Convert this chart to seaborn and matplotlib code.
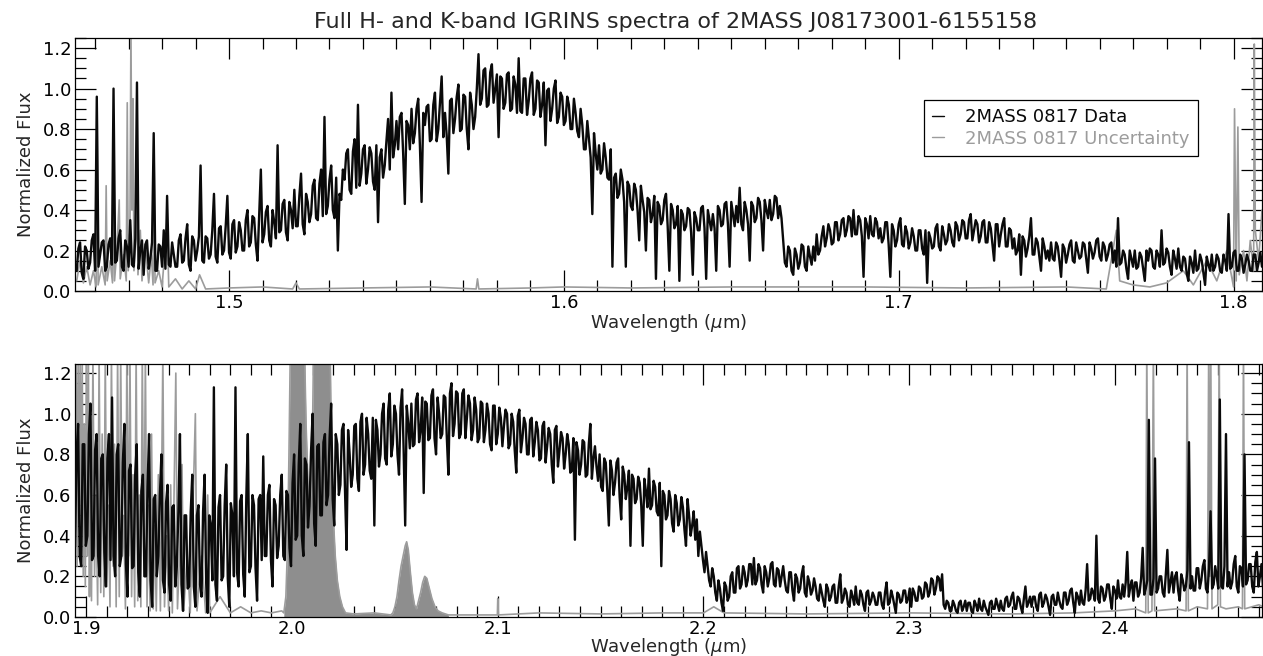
import numpy as np
import matplotlib
matplotlib.use("Agg")
import matplotlib.pyplot as plt
import seaborn as sns
from matplotlib.ticker import MultipleLocator
from matplotlib.lines import Line2D

# ---------------- data ----------------
TITLE = "Full H- and K-band IGRINS spectra of 2MASS J08173001-6155158"
LABEL_DATA = "2MASS 0817 Data"
LABEL_UNC = "2MASS 0817 Uncertainty"

# H band: regular sampling grid (start, step) and flux values
H_START, H_STEP = 1.4545, 0.0005
H_FLUX = [
    0.10,0.21,0.24,0.09,0.06,0.22,0.20,0.11,0.14,0.25,0.28,0.10,0.96,0.12,0.18,0.24,0.25,0.10,0.12,0.23,
    0.26,0.13,1.00,0.14,0.15,0.26,0.30,0.12,0.10,0.25,0.22,0.12,0.35,0.13,0.12,0.26,1.03,0.11,0.20,0.25,
    0.08,0.23,0.25,0.11,0.16,0.24,0.78,0.10,0.10,0.23,0.22,0.12,0.30,0.11,0.47,0.13,0.12,0.24,0.18,0.12,
    0.12,0.25,0.28,0.14,0.15,0.26,0.33,0.13,0.10,0.27,0.25,0.15,0.20,0.27,0.62,0.15,0.14,0.27,0.26,0.16,
    0.18,0.30,0.48,0.17,0.14,0.31,0.32,0.18,0.20,0.32,0.47,0.19,0.16,0.33,0.35,0.19,0.22,0.34,0.30,0.20,
    0.20,0.35,0.40,0.22,0.24,0.37,0.36,0.23,0.15,0.38,0.60,0.24,0.28,0.39,0.42,0.25,0.22,0.40,0.34,0.26,
    0.72,0.29,0.30,0.43,0.45,0.29,0.25,0.44,0.40,0.31,0.50,0.32,0.32,0.47,0.58,0.33,0.28,0.48,0.44,0.34,
    0.38,0.52,0.55,0.36,0.35,0.53,0.60,0.37,0.86,0.38,0.42,0.55,0.62,0.40,0.36,0.56,0.20,0.48,0.45,0.60,
    0.55,0.68,0.70,0.50,0.48,0.69,0.75,0.51,0.92,0.52,0.58,0.70,0.72,0.53,0.60,0.71,0.68,0.54,0.50,0.72,
    0.34,0.66,0.70,0.56,0.62,0.74,0.85,0.60,0.98,0.66,0.72,0.84,0.70,0.86,0.88,0.68,0.43,0.84,0.82,0.70,
    0.90,0.73,0.78,0.90,0.95,0.72,0.44,0.88,0.82,0.91,0.92,0.74,0.75,0.92,0.98,0.74,0.80,0.93,1.06,0.76,
    0.88,0.77,0.58,0.94,0.95,0.78,0.85,0.96,1.02,0.79,0.80,0.97,0.96,0.80,0.70,0.98,0.92,0.80,0.86,1.00,
    1.17,0.92,0.95,1.09,1.10,0.91,0.92,1.08,1.12,0.93,1.00,1.07,0.76,1.06,1.05,0.90,0.93,1.07,1.08,0.89,
    0.90,1.06,1.02,0.88,1.15,0.89,0.88,1.05,1.05,0.87,0.94,1.05,1.08,0.87,0.90,1.04,1.03,0.86,0.92,1.03,
    0.72,0.99,1.00,0.84,0.90,1.00,1.04,0.83,0.86,0.98,0.96,0.82,0.84,0.96,0.92,0.80,0.80,0.95,0.88,0.79,
    0.76,0.90,0.82,0.70,0.70,0.84,0.75,0.66,0.38,0.78,0.68,0.60,0.72,0.58,0.60,0.73,0.66,0.56,0.55,0.70,
    0.12,0.56,0.58,0.46,0.48,0.60,0.55,0.44,0.12,0.54,0.52,0.42,0.40,0.53,0.50,0.40,0.25,0.52,0.45,0.39,
    0.20,0.46,0.45,0.34,0.38,0.47,0.06,0.44,0.42,0.33,0.35,0.45,0.48,0.32,0.10,0.43,0.40,0.31,0.33,0.42,
    0.05,0.40,0.38,0.30,0.32,0.41,0.40,0.29,0.08,0.39,0.36,0.30,0.30,0.41,0.42,0.31,0.06,0.40,0.35,0.30,
    0.38,0.31,0.10,0.42,0.40,0.32,0.33,0.43,0.44,0.33,0.12,0.44,0.38,0.32,0.42,0.34,0.51,0.33,0.30,0.44,
    0.40,0.33,0.15,0.44,0.42,0.34,0.36,0.46,0.44,0.35,0.20,0.45,0.40,0.36,0.45,0.35,0.38,0.47,0.46,0.36,
    0.42,0.36,0.25,0.14,0.12,0.22,0.20,0.10,0.08,0.21,0.18,0.11,0.14,0.23,0.22,0.12,0.10,0.22,0.17,0.13,
    0.22,0.15,0.28,0.18,0.20,0.27,0.32,0.22,0.26,0.33,0.30,0.23,0.24,0.34,0.34,0.25,0.28,0.35,0.36,0.27,
    0.30,0.37,0.36,0.27,0.40,0.28,0.28,0.37,0.35,0.27,0.07,0.36,0.33,0.26,0.37,0.28,0.27,0.36,0.34,0.26,
    0.31,0.24,0.26,0.34,0.34,0.23,0.07,0.33,0.30,0.22,0.25,0.33,0.36,0.23,0.22,0.32,0.29,0.21,0.24,0.31,
    0.27,0.20,0.20,0.30,0.30,0.21,0.18,0.30,0.04,0.29,0.26,0.21,0.22,0.31,0.33,0.22,0.20,0.32,0.28,0.23,
    0.25,0.33,0.30,0.24,0.22,0.34,0.32,0.25,0.28,0.35,0.34,0.26,0.26,0.35,0.38,0.25,0.30,0.35,0.33,0.24,
    0.27,0.34,0.35,0.24,0.24,0.34,0.31,0.23,0.15,0.33,0.33,0.22,0.28,0.33,0.36,0.22,0.22,0.31,0.30,0.21,
    0.26,0.18,0.20,0.28,0.08,0.27,0.25,0.17,0.21,0.27,0.36,0.18,0.18,0.26,0.24,0.17,0.10,0.26,0.22,0.16,
    0.20,0.15,0.24,0.16,0.15,0.24,0.22,0.15,0.07,0.23,0.21,0.14,0.18,0.23,0.25,0.15,0.14,0.24,0.20,0.16,
    0.17,0.24,0.23,0.16,0.09,0.24,0.21,0.16,0.19,0.25,0.26,0.17,0.15,0.24,0.22,0.15,0.18,0.23,0.24,0.14,
    0.20,0.12,0.36,0.13,0.14,0.20,0.18,0.11,0.06,0.20,0.16,0.12,0.20,0.11,0.12,0.19,0.17,0.11,0.05,0.20,
    0.15,0.21,0.20,0.12,0.11,0.20,0.18,0.12,0.30,0.13,0.14,0.21,0.19,0.12,0.08,0.20,0.16,0.11,0.21,0.12,
    0.10,0.17,0.16,0.09,0.05,0.17,0.14,0.09,0.20,0.10,0.11,0.18,0.15,0.09,0.03,0.17,0.13,0.10,0.18,0.10,
    0.12,0.18,0.16,0.10,0.09,0.18,0.15,0.10,0.38,0.11,0.12,0.19,0.20,0.10,0.10,0.18,0.16,0.09,0.13,0.18,
    0.15,0.10,0.10,0.18,0.18,0.10,0.14,0.19,0.12,0.17,
]

H_UNC_WAVE = [
    1.4545,1.4555,1.4565,1.4575,1.4585,1.4595,1.4603,1.4606,1.4609,1.4620,
    1.4630,1.4633,1.4636,1.4645,1.4652,1.4655,1.4658,1.4665,1.4672,1.4675,
    1.4685,1.4693,1.4696,1.4699,1.4704,1.4707,1.4710,1.4713,1.4716,1.4722,
    1.4725,1.4728,1.4735,1.4740,1.4750,1.4760,1.4768,1.4773,1.4776,1.4779,
    1.4790,1.4800,1.4815,1.4820,1.4840,1.4860,1.4880,1.4900,1.4912,1.4930,
    1.5000,1.5100,1.5190,1.5200,1.5210,1.5400,1.5600,1.5738,1.5742,1.5746,
    1.5900,1.6000,1.6200,1.6500,1.6700,1.6900,1.7200,1.7500,1.7620,1.7650,
    1.7660,1.7700,1.7750,1.7800,1.7850,1.7880,1.7920,1.7950,1.7980,1.8000,
    1.8003,1.8008,1.8013,1.8017,1.8030,1.8040,1.8050,1.8060,1.8062,1.8065,
    1.8075,1.8085,
]
H_UNC = [
    0.05,0.15,0.04,0.12,0.03,0.10,0.02,0.96,0.03,0.12,
    0.03,0.52,0.05,0.15,0.04,0.70,0.05,0.20,0.45,0.06,
    0.18,0.05,0.93,0.10,0.30,1.30,0.40,0.95,0.10,0.25,
    0.80,0.08,0.30,0.05,0.22,0.04,0.18,0.03,0.70,0.04,
    0.10,0.02,0.35,0.02,0.06,0.01,0.05,0.01,0.08,0.01,
    0.015,0.02,0.01,0.04,0.01,0.015,0.02,0.01,0.06,0.01,
    0.015,0.02,0.015,0.02,0.02,0.02,0.015,0.02,0.01,0.30,
    0.05,0.03,0.02,0.04,0.10,0.03,0.15,0.05,0.20,0.02,
    0.90,0.05,0.81,0.08,0.20,0.05,0.25,0.10,1.22,0.30,
    0.15,0.40,
]

# K band: regular sampling grid (start, step) and flux values
K_START, K_STEP = 1.8945, 0.00075
K_FLUX = [
    0.35,0.80,0.95,0.30,0.25,0.85,0.85,0.35,0.40,0.90,1.05,0.28,0.30,0.82,0.90,0.30,0.20,0.78,0.80,0.32,
    0.15,0.78,0.90,0.28,1.08,0.30,0.20,0.80,0.85,0.25,0.30,0.76,0.95,0.26,0.10,0.72,0.75,0.24,0.25,0.70,
    0.85,0.22,0.10,0.62,0.70,0.20,0.20,0.64,0.90,0.18,0.05,0.58,0.60,0.20,0.30,0.60,0.80,0.18,0.12,0.56,
    0.65,0.16,0.08,0.54,0.55,0.15,0.25,0.52,0.90,0.16,0.03,0.50,0.50,0.14,0.15,0.52,0.70,0.15,0.05,0.50,
    0.55,0.16,0.10,0.52,0.70,0.17,0.02,0.50,0.45,0.18,1.13,0.16,0.08,0.54,0.60,0.18,0.20,0.55,0.75,0.19,
    0.05,0.56,0.50,0.20,1.13,0.22,0.15,0.57,0.60,0.21,0.10,0.58,0.90,0.22,0.25,0.60,0.55,0.24,0.08,0.58,
    0.60,0.28,0.79,0.30,0.30,0.60,0.65,0.28,0.15,0.58,0.55,0.29,0.35,0.60,0.70,0.30,0.28,0.62,0.60,0.34,
    0.25,0.66,0.80,0.38,0.40,0.75,0.95,0.40,0.30,0.78,0.75,0.44,0.55,0.82,1.00,0.46,0.35,0.84,0.85,0.50,
    0.50,0.86,0.90,0.55,0.60,0.88,1.05,0.58,0.45,0.90,0.85,0.60,0.65,0.92,0.95,0.62,0.33,0.92,0.80,0.64,
    0.70,0.94,0.95,0.68,0.62,0.96,1.00,0.70,0.75,0.98,0.90,0.72,0.68,0.98,0.45,0.97,0.92,0.74,0.80,1.00,
    1.05,0.78,0.75,1.02,1.10,0.79,0.85,1.04,1.00,0.80,0.70,1.03,1.12,0.82,0.45,1.04,0.95,0.83,1.05,0.84,
    0.85,1.07,1.10,0.86,0.92,1.08,0.61,1.06,1.05,0.87,0.88,1.09,1.12,0.88,0.80,1.08,1.00,0.88,0.90,1.09,
    1.08,0.88,0.70,1.10,1.15,0.89,0.95,1.11,1.10,0.88,0.90,1.10,1.12,0.88,0.98,1.09,1.05,0.87,0.92,1.08,
    1.02,0.86,0.88,1.06,1.05,0.86,0.92,1.05,1.00,0.85,0.82,1.04,1.04,0.85,0.90,1.03,0.98,0.84,0.94,1.02,
    1.00,0.83,0.85,1.00,0.96,0.82,0.71,0.99,1.02,0.81,0.88,0.98,0.95,0.80,0.80,0.97,0.98,0.79,0.86,0.96,
    0.92,0.77,0.78,0.94,0.96,0.76,0.84,0.93,0.90,0.75,0.66,0.92,0.94,0.74,0.82,0.91,0.88,0.73,0.80,0.90,
    0.85,0.71,0.72,0.88,0.38,0.86,0.82,0.70,0.75,0.87,0.86,0.69,0.70,0.85,0.95,0.68,0.78,0.84,0.74,0.67,
    0.80,0.64,0.62,0.78,0.76,0.62,0.45,0.77,0.72,0.60,0.66,0.76,0.78,0.59,0.48,0.74,0.70,0.58,0.64,0.72,
    0.35,0.70,0.68,0.56,0.58,0.69,0.66,0.55,0.35,0.68,0.62,0.54,0.73,0.53,0.55,0.67,0.64,0.52,0.50,0.66,
    0.25,0.62,0.60,0.48,0.50,0.62,0.58,0.46,0.42,0.60,0.56,0.45,0.48,0.59,0.54,0.43,0.35,0.58,0.50,0.40,
    0.45,0.52,0.38,0.48,0.30,0.42,0.35,0.28,0.22,0.32,0.25,0.18,0.15,0.24,0.20,0.12,0.08,0.18,0.14,0.07,
    0.03,0.17,0.15,0.08,0.10,0.20,0.22,0.12,0.12,0.24,0.25,0.14,0.16,0.25,0.22,0.15,0.18,0.26,0.26,0.16,
    0.29,0.16,0.18,0.26,0.24,0.16,0.12,0.25,0.22,0.15,0.19,0.26,0.27,0.16,0.15,0.24,0.23,0.15,0.20,0.25,
    0.18,0.13,0.12,0.22,0.22,0.13,0.08,0.21,0.19,0.12,0.14,0.21,0.25,0.12,0.10,0.20,0.17,0.11,0.13,0.19,
    0.15,0.09,0.08,0.16,0.12,0.08,0.05,0.16,0.14,0.08,0.10,0.15,0.16,0.07,0.07,0.15,0.21,0.07,0.09,0.14,
    0.12,0.06,0.05,0.13,0.10,0.06,0.15,0.07,0.06,0.13,0.11,0.06,0.03,0.12,0.13,0.06,0.08,0.12,0.10,0.06,
    0.06,0.12,0.12,0.06,0.04,0.12,0.17,0.06,0.07,0.13,0.10,0.06,0.02,0.12,0.11,0.07,0.08,0.13,0.13,0.07,
    0.09,0.14,0.05,0.14,0.12,0.08,0.08,0.15,0.14,0.09,0.10,0.17,0.16,0.10,0.12,0.19,0.18,0.11,0.14,0.20,
    0.19,0.13,0.21,0.06,0.04,0.08,0.07,0.03,0.03,0.08,0.06,0.03,0.02,0.07,0.08,0.03,0.05,0.08,0.03,0.07,
    0.07,0.03,0.02,0.08,0.06,0.03,0.09,0.04,0.03,0.08,0.05,0.03,0.01,0.07,0.08,0.04,0.04,0.09,0.06,0.03,
    0.08,0.04,0.03,0.09,0.10,0.05,0.06,0.10,0.12,0.04,0.04,0.10,0.09,0.05,0.02,0.09,0.15,0.05,0.07,0.10,
    0.05,0.10,0.10,0.05,0.03,0.11,0.12,0.05,0.07,0.11,0.09,0.05,0.01,0.10,0.11,0.06,0.06,0.12,0.08,0.05,
    0.04,0.12,0.12,0.06,0.08,0.13,0.14,0.07,0.02,0.12,0.10,0.06,0.13,0.07,0.06,0.13,0.26,0.08,0.09,0.14,
    0.12,0.08,0.40,0.09,0.07,0.15,0.14,0.08,0.10,0.16,0.16,0.09,0.04,0.15,0.13,0.09,0.18,0.10,0.09,0.16,
    0.10,0.17,0.32,0.10,0.15,0.18,0.08,0.17,0.17,0.10,0.12,0.19,0.34,0.11,0.14,0.18,0.97,0.11,0.11,0.19,
    0.78,0.12,0.14,0.20,0.20,0.12,0.10,0.21,0.33,0.12,0.17,0.22,0.12,0.20,0.22,0.13,0.08,0.21,0.18,0.13,
    0.15,0.23,0.86,0.14,0.20,0.13,0.13,0.24,0.24,0.14,0.18,0.25,0.28,0.14,0.12,0.24,0.52,0.14,0.16,0.25,
    0.20,0.14,1.07,0.15,0.14,0.25,0.90,0.15,0.22,0.14,0.17,0.26,0.30,0.15,0.12,0.25,0.24,0.15,0.80,0.16,
    0.18,0.26,0.26,0.15,0.12,0.27,0.32,0.15,0.20,0.26,0.15,0.26,
]

K_UNC_WAVE = [
    1.8945,1.8950,1.8955,1.8960,1.8965,1.8970,1.8975,1.8980,1.8985,1.8990,
    1.8995,1.9000,1.9005,1.9010,1.9015,1.9020,1.9025,1.9032,1.9040,1.9047,
    1.9055,1.9062,1.9070,1.9077,1.9085,1.9092,1.9100,1.9107,1.9115,1.9122,
    1.9130,1.9137,1.9145,1.9152,1.9160,1.9167,1.9175,1.9182,1.9190,1.9197,
    1.9205,1.9212,1.9220,1.9227,1.9235,1.9242,1.9250,1.9257,1.9265,1.9272,
    1.9280,1.9287,1.9295,1.9302,1.9310,1.9317,1.9325,1.9332,1.9340,1.9350,
    1.9360,1.9372,1.9380,1.9390,1.9400,1.9410,1.9418,1.9435,1.9443,1.9455,
    1.9465,1.9473,1.9490,1.9505,1.9530,1.9538,1.9560,1.9580,1.9590,1.9600,
    1.9650,1.9700,1.9750,1.9800,1.9850,1.9900,1.9950,1.9960,1.9970,1.9978,
    1.9985,1.9992,2.0060,2.0068,2.0078,2.0088,2.0098,2.0105,2.0185,2.0192,
    2.0200,2.0210,2.0220,2.0232,2.0245,2.0260,2.0300,2.0400,2.0480,2.0490,
    2.0500,2.0510,2.0520,2.0530,2.0540,2.0550,2.0557,2.0565,2.0575,2.0585,
    2.0595,2.0605,2.0615,2.0625,2.0635,2.0645,2.0655,2.0665,2.0680,2.0695,
    2.0710,2.0730,2.0760,2.0950,2.0998,2.1000,2.1003,2.1200,2.1500,2.1800,
    2.2000,2.2050,2.2100,2.2500,2.3000,2.3500,2.3800,2.4000,2.4100,2.4150,
    2.4155,2.4162,2.4180,2.4187,2.4193,2.4300,2.4346,2.4351,2.4357,2.4400,
    2.4450,2.4456,2.4461,2.4466,2.4472,2.4500,2.4507,2.4513,2.4540,2.4600,
    2.4620,2.4625,2.4631,2.4700,2.4720,
]
K_UNC = [
    0.30,1.30,0.25,1.30,0.45,1.30,0.35,1.30,0.20,0.95,
    0.15,1.30,0.30,1.30,0.10,0.80,0.08,1.30,0.20,0.60,
    0.06,1.30,0.12,0.90,0.10,1.30,0.15,0.55,0.05,1.30,
    0.25,0.85,0.05,1.30,0.10,1.30,0.30,0.50,0.04,1.30,
    0.30,1.30,0.10,0.70,0.05,1.30,0.08,0.60,0.05,1.30,
    0.20,1.30,0.05,0.55,0.03,0.90,0.04,0.45,0.03,0.70,
    0.03,1.30,0.05,0.40,0.03,0.65,0.02,1.20,0.04,0.35,
    0.75,0.03,0.30,0.02,1.00,0.03,0.30,0.02,0.60,0.02,
    0.10,0.02,0.05,0.02,0.03,0.02,0.03,0.02,0.10,0.35,
    0.80,1.35,1.35,0.95,0.65,0.55,0.80,1.35,1.35,0.75,
    0.50,0.30,0.18,0.10,0.05,0.02,0.015,0.02,0.01,0.02,
    0.05,0.10,0.18,0.25,0.30,0.35,0.37,0.33,0.22,0.12,
    0.06,0.04,0.08,0.12,0.17,0.20,0.19,0.15,0.09,0.05,
    0.03,0.02,0.01,0.01,0.01,0.09,0.01,0.02,0.015,0.02,
    0.02,0.05,0.02,0.015,0.02,0.015,0.02,0.03,0.04,0.02,
    1.35,0.02,0.03,1.35,0.03,0.04,0.03,1.35,0.03,0.05,
    0.04,1.35,0.20,1.35,0.04,0.06,1.35,0.05,0.04,0.05,
    0.04,1.35,0.04,0.06,0.05,
]
# wavelength range where the uncertainty is a dense (filled-looking) band
K_UNC_BAND = (1.9955, 2.0765)

# ---------------- styling ----------------
sns.set_style("ticks")
plt.rcParams["font.family"] = ["DejaVu Sans"]
DATA_COLOR = "#0a0a0a"
UNC_COLOR = "#9c9c9c"
UNC_FILL = "#8e8e8e"

fig = plt.figure(figsize=(12.63, 6.56), dpi=100)
ax_h = fig.add_axes([0.0594, 0.5564, 0.9398, 0.3857])
ax_k = fig.add_axes([0.0594, 0.0595, 0.9398, 0.3857])

h_wave = H_START + H_STEP * np.arange(len(H_FLUX))
k_wave = K_START + K_STEP * np.arange(len(K_FLUX))


def draw(ax, wave, flux, uwave, unc, band, xlim, ylim, xlabelpad):
    uwave = np.asarray(uwave)
    unc = np.asarray(unc)
    if band is not None:
        m = (uwave >= band[0]) & (uwave <= band[1])
        ax.fill_between(uwave[m], 0, unc[m], color=UNC_FILL, lw=0, zorder=1)
    sns.lineplot(x=uwave, y=unc, ax=ax, color=UNC_COLOR, lw=1.2,
                 estimator=None, sort=False, zorder=2)
    sns.lineplot(x=wave, y=flux, ax=ax, color=DATA_COLOR, lw=1.7,
                 estimator=None, sort=False, zorder=3)
    ax.set_xlim(*xlim)
    ax.set_ylim(*ylim)
    ax.xaxis.set_major_locator(MultipleLocator(0.1))
    ax.xaxis.set_minor_locator(MultipleLocator(0.01))
    ax.yaxis.set_major_locator(MultipleLocator(0.2))
    ax.yaxis.set_minor_locator(MultipleLocator(0.05))
    ax.tick_params(which="both", direction="in", top=True, right=True,
                   colors="black", width=0.9, labelsize=13, pad=2.5)
    ax.tick_params(which="major", length=15)
    ax.tick_params(which="minor", length=8)
    ax.set_xlabel(r"Wavelength ($\mu$m)", fontsize=13, labelpad=xlabelpad)
    ax.set_ylabel("Normalized Flux", fontsize=13, labelpad=6)
    for s in ax.spines.values():
        s.set_color("black")
        s.set_linewidth(0.9)
    ax.xaxis.set_major_formatter(plt.FuncFormatter(lambda v, p: f"{v:.1f}"))
    ax.yaxis.set_major_formatter(plt.FuncFormatter(lambda v, p: f"{v:.1f}"))


draw(ax_h, h_wave, H_FLUX, H_UNC_WAVE, H_UNC, None,
     (1.454, 1.8085), (0, 1.25), -0.5)
draw(ax_k, k_wave, K_FLUX, K_UNC_WAVE, K_UNC, K_UNC_BAND,
     (1.8945, 2.4715), (0, 1.245), -1.5)

ax_h.set_title(TITLE, fontsize=16, pad=7, x=0.506)

handles = [Line2D([], [], color=DATA_COLOR, lw=1.0),
           Line2D([], [], color=UNC_COLOR, lw=1.0)]
leg = ax_h.legend(handles, [LABEL_DATA, LABEL_UNC], loc="upper right",
                  bbox_to_anchor=(0.946, 0.755), borderaxespad=0,
                  fontsize=13, frameon=True, fancybox=False,
                  edgecolor="black", framealpha=1,
                  handlelength=0.65, handletextpad=1.2, labelspacing=0.2,
                  borderpad=0.45, labelcolor="linecolor")
leg.get_frame().set_linewidth(0.9)

fig.savefig("out.png", dpi=100)
